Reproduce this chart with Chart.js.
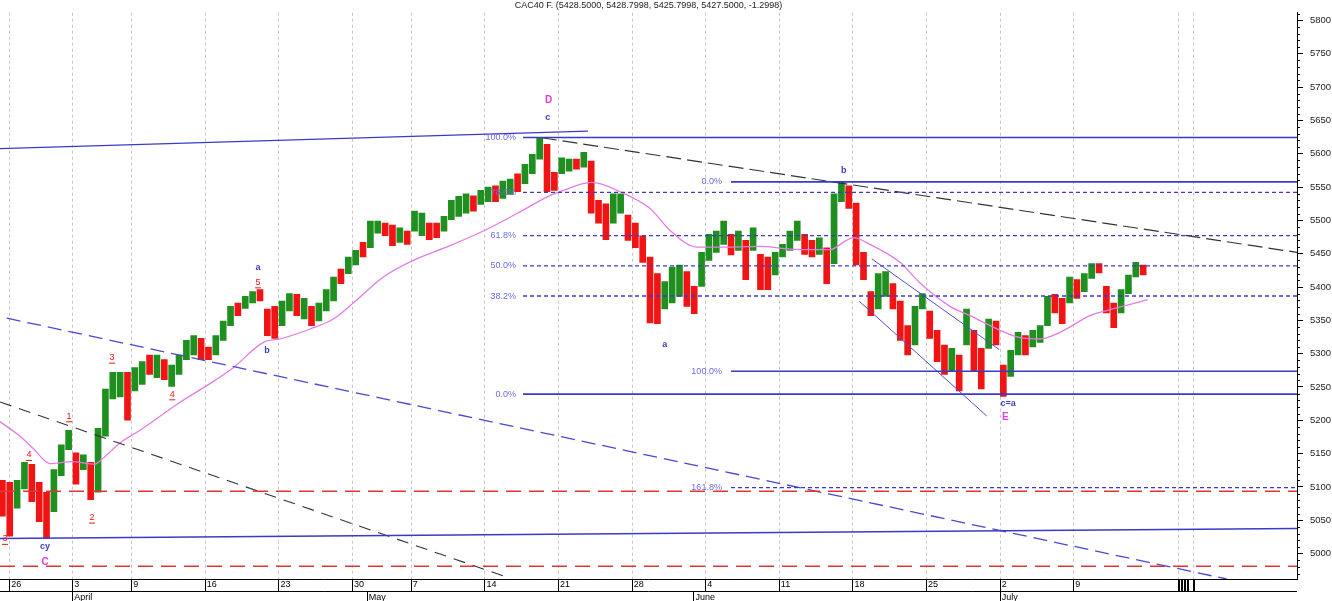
<!DOCTYPE html>
<html>
<head>
<meta charset="utf-8">
<title>CAC40 F.</title>
<script src="https://cdn.jsdelivr.net/npm/chart.js@4.4.1/dist/chart.umd.min.js"></script>
<style>
  html, body { margin: 0; padding: 0; background: #fff; }
  .box { width: 1332px; height: 601px; }
</style>
</head>
<body>
<div class="box"><canvas id="myChart" width="1332" height="601"></canvas></div>
<script>
// half-session bars, x = trading-day index (26 March = 0)
const highs = [
  5110, 5107, 5110, 5137, 5134, 5107, 5092, 5126, 5163, 5185,
  5151, 5148, 5137, 5188, 5247, 5272, 5272, 5272, 5279, 5288,
  5298, 5298, 5291, 5283, 5298, 5320, 5327, 5323, 5310, 5327,
  5349, 5371, 5376, 5386, 5393, 5396, 5367, 5371, 5379, 5390,
  5389, 5383, 5371, 5376, 5396, 5415, 5427, 5445, 5455, 5467,
  5499, 5499, 5496, 5493, 5489, 5484, 5514, 5511, 5496, 5496,
  5506, 5530, 5536, 5540, 5537, 5545, 5550, 5552, 5559, 5562,
  5570, 5584, 5599, 5624, 5614, 5572, 5594, 5592, 5592, 5602,
  5589, 5530, 5525, 5540, 5540, 5508, 5496, 5477, 5445, 5420,
  5408, 5430, 5433, 5423, 5401, 5452, 5479, 5484, 5499, 5479,
  5484, 5470, 5489, 5449, 5445, 5452, 5464, 5484, 5499, 5479,
  5470, 5474, 5459, 5540, 5558, 5552, 5526, 5452, 5393, 5420,
  5423, 5405, 5379, 5342, 5371, 5390, 5364, 5335, 5313, 5308,
  5298, 5367, 5335, 5308, 5352, 5349, 5283, 5305, 5332, 5327,
  5335, 5342, 5386, 5389, 5383, 5415, 5411, 5420, 5435, 5435,
  5401, 5376, 5396, 5418, 5437, 5433
];
const lows = [
  5056, 5026, 5068, 5097, 5078, 5048, 5023, 5063, 5117, 5156,
  5104, 5126, 5081, 5092, 5176, 5232, 5235, 5200, 5244, 5254,
  5269, 5264, 5261, 5251, 5269, 5291, 5298, 5291, 5291, 5298,
  5320, 5342, 5357, 5368, 5376, 5379, 5327, 5323, 5342, 5364,
  5357, 5352, 5342, 5349, 5364, 5379, 5405, 5420, 5433, 5445,
  5459, 5481, 5477, 5462, 5467, 5464, 5484, 5477, 5471, 5474,
  5484, 5501, 5506, 5511, 5514, 5524, 5528, 5528, 5533, 5539,
  5543, 5555, 5570, 5592, 5543, 5545, 5570, 5574, 5577, 5580,
  5511, 5496, 5471, 5496, 5511, 5470, 5459, 5437, 5346, 5345,
  5367, 5376, 5386, 5371, 5360, 5401, 5440, 5452, 5464, 5448,
  5455, 5411, 5455, 5396, 5396, 5418, 5445, 5455, 5470, 5449,
  5445, 5449, 5405, 5435, 5528, 5518, 5433, 5411, 5357, 5367,
  5386, 5367, 5320, 5298, 5313, 5367, 5323, 5288, 5269, 5273,
  5244, 5313, 5273, 5247, 5308, 5313, 5236, 5266, 5298, 5298,
  5310, 5317, 5342, 5361, 5345, 5376, 5383, 5393, 5413, 5421,
  5361, 5339, 5361, 5390, 5415, 5418
];
const closes = [
  5066, 5050, 5100, 5130, 5090, 5060, 5035, 5118, 5155, 5178,
  5120, 5142, 5095, 5180, 5240, 5262, 5266, 5240, 5272, 5280,
  5275, 5290, 5268, 5278, 5292, 5315, 5320, 5298, 5294, 5322,
  5344, 5365, 5360, 5382, 5390, 5382, 5335, 5330, 5372, 5385,
  5362, 5378, 5348, 5370, 5390, 5410, 5408, 5440, 5450, 5448,
  5494, 5496, 5482, 5468, 5485, 5470, 5508, 5509, 5478, 5476,
  5502, 5525, 5530, 5536, 5520, 5540, 5546, 5534, 5555, 5558,
  5548, 5580, 5594, 5615, 5555, 5550, 5588, 5590, 5580, 5598,
  5520, 5505, 5490, 5532, 5535, 5480, 5468, 5445, 5365, 5360,
  5400, 5422, 5428, 5385, 5370, 5445, 5470, 5478, 5492, 5458,
  5478, 5430, 5482, 5410, 5402, 5445, 5458, 5478, 5492, 5455,
  5450, 5468, 5415, 5530, 5550, 5525, 5445, 5420, 5365, 5410,
  5415, 5375, 5330, 5305, 5362, 5385, 5330, 5295, 5280, 5300,
  5260, 5360, 5285, 5262, 5345, 5320, 5250, 5295, 5325, 5305,
  5330, 5338, 5380, 5368, 5352, 5410, 5390, 5415, 5430, 5426,
  5370, 5350, 5390, 5412, 5432, 5427.5
];
const firstBar = -0.75;
const barStep = 0.5;

// moving average (pink)
const maDays = [-0.91, 0.45, 1.33, 2.49, 3.98, 5.54, 5.88, 7.24, 8.6, 11.32, 13.13, 14.94, 16.98, 18.11,
  20.15, 21.73, 23.09, 25.13, 27.17, 29.66, 32.38, 34.75, 36.23, 37.13, 39.29, 41.21, 43.25, 44.61,
  46.42, 48.68, 50.72, 52.76, 54.12, 55.48, 56.5, 57.06, 58.19, 60.23, 61.59, 63.63, 64.99, 67.03,
  68.39, 69.75, 71.1, 73.14, 74.5, 75.86, 77.06];
const maValues = [5198, 5176, 5158, 5135, 5138, 5134, 5139, 5166, 5185, 5227, 5252, 5279, 5317, 5322,
  5337, 5352, 5376, 5415, 5440, 5462, 5489, 5517, 5535, 5543, 5557, 5543, 5518, 5485,
  5460, 5460, 5461, 5457, 5456, 5456, 5469, 5474, 5464, 5437, 5406, 5371, 5357, 5335,
  5324, 5322, 5332, 5357, 5366, 5374, 5381];

// axes
const priceTicks = [5000, 5050, 5100, 5150, 5200, 5250, 5300, 5350, 5400, 5450, 5500, 5550, 5600, 5650, 5700, 5750, 5800];
const weekDays = [-0.28, 4, 8, 13, 18, 23, 27, 32, 37, 42, 47, 52, 57, 62, 67, 72];
const weekLabels = ["26", "3", "9", "16", "23", "30", "7", "14", "21", "28", "4", "11", "18", "25", "2", "9"];
const monthDays = [4, 24, 46.2, 67];
const monthLabels = ["April", "May", "June", "July"];
const extraGridDays = [79.1, 80.15];
const clutterDays = [79.1, 79.3, 79.5, 79.75, 80.15];

// fibonacci levels
const fibALevels = [5624.3, 5542, 5477, 5431.6, 5386.5, 5239.3];
const fibALabels = ["100.0%", "78.6%", "61.8%", "50.0%", "38.2%", "0.0%"];
const fibBLevels = [5557.8, 5273.5, 5099];
const fibBLabels = ["0.0%", "100.0%", "161.8%"];
const fibAStart = 34.62, fibALabelDay = 34.14;
const fibBStart = 48.75, fibBLabelDay = 48.13;

// trend lines [day, value]
const topLine = [[-0.912, 5607.7], [39.03, 5634]];
const bottomLine = [[-0.912, 5022.5], [87.2, 5037.7]];
const blackUpper = [[35.89, 5624], [87.2, 5452]];
const blackLower = [[-0.912, 5227.5], [33.74, 4963]];
const blueDiagonal = [[-0.457, 5353.3], [82.42, 4961.8]];
const channelUpper = [[58.31, 5442.3], [66.96, 5306.3]];
const channelLower = [[57.46, 5378.7], [66.12, 5206.5]];
const redLevels = [5093.5, 4981];

// wave labels
const waveText = ["D", "c", "b", "a", "c=a", "E", "a", "5", "b", "3", "4", "1", "4", "2", "3", "cy", "C"];
const waveDay = [36.35, 36.3, 56.4, 44.25, 67.58, 67.38, 16.62, 16.62, 17.23, 6.7, 10.79, 3.78, 1.06, 5.34, -0.57, 2.15, 2.15];
const waveValue = [5680, 5655, 5575, 5313, 5225, 5204, 5430, 5407, 5305, 5294, 5239, 5206, 5148, 5054, 5022, 5010, 4987];

const titleText = "CAC40 F. (5428.5000, 5428.7998, 5425.7998, 5427.5000, -1.2998)";

const xMin = -0.912, xMax = 87.2, yMin = 4961.8, yMax = 5811.7;
const GREEN = '#1f8f1f', RED = '#f01414', BLUE = '#3a3ac6', FIB = '#6a6ae6', PINK = '#e47ce4', MAGENTA = '#e23ce2';
const FONT = '"Liberation Sans", Arial, sans-serif';

function lineSet(points, color, width, dash) {
  return {
    type: 'line',
    data: points.map(p => ({x: p[0], y: p[1]})),
    borderColor: color, borderWidth: width, borderDash: dash || [],
    pointRadius: 0, pointHoverRadius: 0, fill: false, tension: 0, order: 1
  };
}

const barColours = closes.map((c, i) => c >= (i ? closes[i - 1] : highs[0]) ? GREEN : RED);

const datasets = [
  {
    type: 'bar',
    data: highs.map((h, i) => ({x: firstBar + i * barStep, y: [lows[i], h]})),
    backgroundColor: barColours,
    borderWidth: 0, barThickness: 6, grouped: false, order: 10
  },
  {
    type: 'line',
    data: maDays.map((d, i) => ({x: d, y: maValues[i]})),
    borderColor: PINK, borderWidth: 1.3, pointRadius: 0, fill: false,
    cubicInterpolationMode: 'monotone', order: 2
  }
];

const isSolid = t => t === "0.0%" || t === "100.0%";
fibALevels.forEach((v, i) => datasets.push(
  lineSet([[fibAStart, v], [xMax, v]], BLUE, isSolid(fibALabels[i]) ? 1.6 : 1.3, isSolid(fibALabels[i]) ? [] : [4, 3])));
fibBLevels.forEach((v, i) => datasets.push(
  lineSet([[fibBStart, v], [xMax, v]], BLUE, isSolid(fibBLabels[i]) ? 1.6 : 1.3, isSolid(fibBLabels[i]) ? [] : [4, 3])));
redLevels.forEach(v => datasets.push(lineSet([[xMin, v], [xMax, v]], '#e23434', 1.5, [15, 8])));
datasets.push(lineSet(topLine, BLUE, 1.4));
datasets.push(lineSet(bottomLine, BLUE, 1.4));
datasets.push(lineSet(blackUpper, '#333', 1.2, [15, 6]));
datasets.push(lineSet(blackLower, '#333', 1.1, [12, 8]));
datasets.push(lineSet(blueDiagonal, '#4848d4', 1.3, [14, 7]));
datasets.push(lineSet(channelUpper, '#5050cc', 1));
datasets.push(lineSet(channelLower, '#5050cc', 1));

const overlay = {
  id: 'overlay',
  beforeDatasetsDraw(chart) {
    const {ctx, chartArea: a, scales: {x}} = chart;
    ctx.save();
    ctx.strokeStyle = '#c4c4c4';
    ctx.lineWidth = 1;
    ctx.setLineDash([3, 3]);
    weekDays.concat(extraGridDays).forEach(d => {
      const px = Math.round(x.getPixelForValue(d)) + 0.5;
      ctx.beginPath(); ctx.moveTo(px, a.top); ctx.lineTo(px, a.bottom); ctx.stroke();
    });
    ctx.restore();
  },
  afterDatasetsDraw(chart) {
    const {ctx, chartArea: a, scales: {x, y}} = chart;
    ctx.save();
    ctx.textBaseline = 'middle';
    ctx.font = '9px ' + FONT;
    ctx.fillStyle = FIB;
    ctx.textAlign = 'right';
    fibALevels.forEach((v, i) => ctx.fillText(fibALabels[i], x.getPixelForValue(fibALabelDay), y.getPixelForValue(v)));
    fibBLevels.forEach((v, i) => ctx.fillText(fibBLabels[i], x.getPixelForValue(fibBLabelDay), y.getPixelForValue(v)));

    ctx.textAlign = 'center';
    waveText.forEach((t, i) => {
      const px = x.getPixelForValue(waveDay[i]), py = y.getPixelForValue(waveValue[i]);
      if (/^\d$/.test(t)) {
        ctx.font = '9px ' + FONT; ctx.fillStyle = RED;
        ctx.fillText(t, px, py);
        const w = ctx.measureText(t).width;
        ctx.fillRect(px - w / 2 - 0.5, py + 5, w + 1, 1);
      } else if (/^[A-Z]$/.test(t)) {
        ctx.font = 'bold 10px ' + FONT; ctx.fillStyle = MAGENTA;
        ctx.fillText(t, px, py);
      } else {
        ctx.font = 'bold 9px ' + FONT; ctx.fillStyle = BLUE;
        ctx.fillText(t, px, py);
      }
    });

    ctx.font = '9px ' + FONT;
    ctx.fillStyle = '#222';
    ctx.fillText(titleText, (a.left + a.right) / 2, 6);
    ctx.restore();
  },
  afterDraw(chart) {
    const {ctx, chartArea: a, scales: {x, y}} = chart;
    ctx.save();
    ctx.strokeStyle = '#000';
    ctx.lineWidth = 1;
    const rowTop = a.bottom, rowMid = a.bottom + 12, rowEnd = chart.height;
    ctx.beginPath();
    ctx.moveTo(0, rowTop + 0.5); ctx.lineTo(a.right, rowTop + 0.5);
    ctx.moveTo(0, rowMid + 0.5); ctx.lineTo(a.right, rowMid + 0.5);
    weekDays.forEach(d => {
      const px = Math.round(x.getPixelForValue(d)) + 0.5;
      ctx.moveTo(px, rowTop); ctx.lineTo(px, rowMid);
    });
    monthDays.forEach(d => {
      const px = Math.round(x.getPixelForValue(d)) + 0.5;
      ctx.moveTo(px, rowMid); ctx.lineTo(px, rowEnd);
    });
    ctx.stroke();

    ctx.lineWidth = 2;
    ctx.beginPath();
    clutterDays.forEach(d => {
      const px = Math.round(x.getPixelForValue(d)) + 1;
      ctx.moveTo(px, rowTop); ctx.lineTo(px, rowMid);
    });
    ctx.stroke();

    ctx.fillStyle = '#000';
    ctx.font = '9px ' + FONT;
    ctx.textAlign = 'left';
    ctx.textBaseline = 'middle';
    monthDays.forEach((d, i) => ctx.fillText(monthLabels[i], x.getPixelForValue(d) + 2, rowMid + 7));

    // minor ticks on the price axis
    ctx.lineWidth = 1;
    ctx.beginPath();
    for (let v = 4970; v < yMax; v += 10) {
      if (v % 50 === 0) continue;
      const py = Math.round(y.getPixelForValue(v)) + 0.5;
      ctx.moveTo(a.right, py); ctx.lineTo(a.right + 3, py);
    }
    ctx.stroke();
    ctx.restore();
  }
};

new Chart("myChart", {
  type: 'line',
  data: {datasets: datasets},
  options: {
    responsive: false,
    animation: false,
    events: [],
    layout: {padding: 0},
    plugins: {
      legend: {display: false},
      tooltip: {enabled: false},
      title: {display: false}
    },
    scales: {
      x: {
        type: 'linear',
        min: xMin, max: xMax,
        offset: false,
        afterBuildTicks: s => { s.ticks = weekDays.map(v => ({value: v})); },
        afterFit: s => { s.height = 22; },
        grid: {display: false, drawTicks: false, offset: false},
        border: {display: false},
        ticks: {
          autoSkip: false, maxRotation: 0, align: 'start', padding: 0, labelOffset: 2,
          color: '#000', font: {size: 9, family: FONT},
          callback: (v, i) => weekLabels[i]
        }
      },
      y: {
        type: 'linear',
        position: 'right',
        min: yMin, max: yMax,
        beginAtZero: false,
        afterBuildTicks: s => { s.ticks = priceTicks.map(v => ({value: v})); },
        afterFit: s => { s.width = 35; },
        grid: {drawOnChartArea: false, drawTicks: true, tickLength: 6, color: '#000'},
        border: {display: true, color: '#000', width: 1},
        ticks: {padding: 7, color: '#222', font: {size: 9.5, family: FONT}, callback: v => String(v)}
      }
    }
  },
  plugins: [overlay]
});
</script>
</body>
</html>
